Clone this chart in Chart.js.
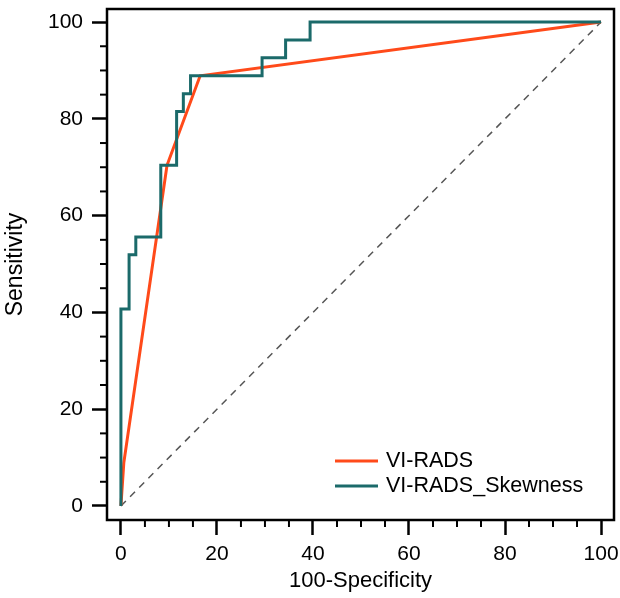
<!DOCTYPE html>
<html>
<head>
<meta charset="utf-8">
<script src="https://cdn.jsdelivr.net/npm/chart.js@4"></script>
<style>
  body { margin: 0; background: #fff; }
  #wrap { width: 620px; height: 598px; }
</style>
</head>
<body>
<div id="wrap"><canvas id="rocChart" width="620" height="598"></canvas></div>
<script>
// ROC curves, values
const seriesNames = ['VI-RADS', 'VI-RADS_Skewness'];
const viradsFpr = [0, 0.6, 9.6, 16.5, 100];
const viradsTpr = [0, 8.9, 70.4, 88.9, 100];
const skewFpr = [0, 0, 1.7, 3.1, 8.3, 11.6, 13.0, 14.5, 29.4, 34.3, 39.4, 100];
const skewTpr = [0, 40.7, 51.9, 55.6, 70.4, 81.5, 85.2, 88.9, 92.6, 96.3, 100, 100];
const refLine = [0, 100];
const tickValues = [0, 20, 40, 60, 80, 100];
const minorStep = 5;

const orange = '#ff4a1a';
const teal = '#1b6a6a';
const fontFam = "'Liberation Sans', Arial, sans-serif";

function toPoints(xs, ys) {
    return xs.map((x, i) => ({ x: x, y: ys[i] }));
}

// frame, minor ticks and legend inside the plot
const extras = {
    id: 'extras',
    afterDatasetsDraw(chart) {
        const ctx = chart.ctx;
        const a = chart.chartArea;
        ctx.save();
        ctx.strokeStyle = '#000';
        ctx.lineWidth = 2.5;
        ctx.strokeRect(a.left, a.top, a.right - a.left, a.bottom - a.top);

        // minor ticks
        ctx.lineWidth = 2;
        const xs = chart.scales.x, ys = chart.scales.y;
        for (let v = 0; v <= 100; v += minorStep) {
            if (tickValues.includes(v)) continue;
            const px = xs.getPixelForValue(v);
            ctx.beginPath();
            ctx.moveTo(px, a.bottom);
            ctx.lineTo(px, a.bottom + 7);
            ctx.stroke();
            const py = ys.getPixelForValue(v);
            ctx.beginPath();
            ctx.moveTo(a.left, py);
            ctx.lineTo(a.left - 7, py);
            ctx.stroke();
        }

        // legend
        const items = [chart.data.datasets[1], chart.data.datasets[0]];
        ctx.font = '21.5px ' + fontFam;
        ctx.textBaseline = 'middle';
        ctx.fillStyle = '#000';
        items.forEach((ds, i) => {
            const y = a.bottom - 59 + i * 25;
            ctx.strokeStyle = ds.borderColor;
            ctx.lineWidth = 3;
            ctx.beginPath();
            ctx.moveTo(a.right - 279, y);
            ctx.lineTo(a.right - 236, y);
            ctx.stroke();
            ctx.fillText(ds.label, a.right - 228, y);
        });
        ctx.restore();
    }
};

const axisCommon = {
    type: 'linear',
    min: -2.9,
    max: 102.7,
    afterBuildTicks: (scale) => { scale.ticks = tickValues.map(v => ({ value: v })); },
    grid: {
        drawOnChartArea: false,
        drawTicks: true,
        tickLength: 15,
        tickWidth: 2.5,
        tickColor: '#000'
    },
    border: { display: false },
    ticks: {
        color: '#000',
        font: { family: fontFam, size: 21 }
    }
};

new Chart(document.getElementById('rocChart'), {
    type: 'scatter',
    data: {
        datasets: [{
            label: seriesNames[1],
            data: toPoints(skewFpr, skewTpr),
            showLine: true,
            stepped: true,
            borderColor: teal,
            backgroundColor: teal,
            borderWidth: 3,
            pointRadius: 0
        }, {
            label: seriesNames[0],
            data: toPoints(viradsFpr, viradsTpr),
            showLine: true,
            borderColor: orange,
            backgroundColor: orange,
            borderWidth: 3,
            pointRadius: 0
        }, {
            label: 'reference',
            data: toPoints(refLine, refLine),
            showLine: true,
            borderColor: '#555',
            borderWidth: 1.5,
            borderDash: [7, 6],
            pointRadius: 0
        }]
    },
    options: {
        responsive: false,
        animation: false,
        devicePixelRatio: 1,
        layout: { padding: { top: 9, right: 6, left: 0, bottom: 0 } },
        plugins: {
            legend: { display: false },
            tooltip: { enabled: false }
        },
        scales: {
            x: Object.assign({}, axisCommon, {
                position: 'bottom',
                afterFit: (scale) => {
                    scale.height = 78;
                    scale.paddingLeft = 0;
                    scale.paddingRight = 0;
                },
                ticks: Object.assign({}, axisCommon.ticks, { padding: 7, maxRotation: 0 }),
                title: {
                    display: true,
                    text: '100-Specificity',
                    color: '#000',
                    font: { family: fontFam, size: 22 },
                    padding: { top: 0, bottom: 4 }
                }
            }),
            y: Object.assign({}, axisCommon, {
                position: 'left',
                afterFit: (scale) => {
                    scale.width = 107;
                    scale.paddingTop = 0;
                    scale.paddingBottom = 0;
                },
                ticks: Object.assign({}, axisCommon.ticks, { padding: 9 }),
                title: {
                    display: true,
                    text: 'Sensitivity',
                    color: '#000',
                    font: { family: fontFam, size: 23 },
                    padding: { top: 2, bottom: 0 }
                }
            })
        }
    },
    plugins: [extras]
});
</script>
</body>
</html>
